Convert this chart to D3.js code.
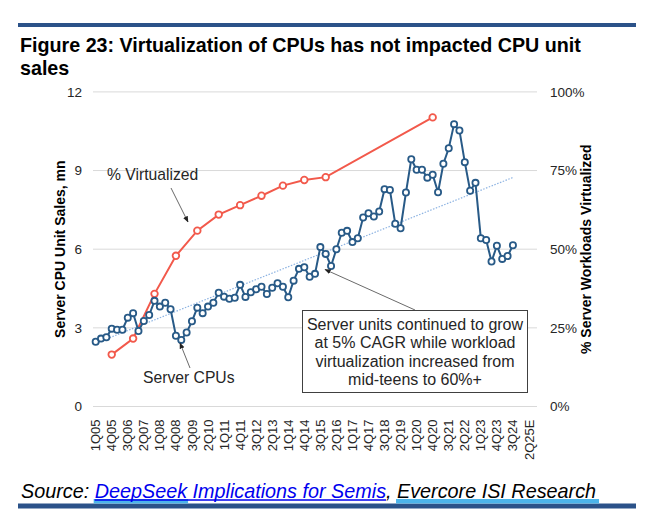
<!DOCTYPE html>
<html>
<head>
<meta charset="utf-8">
<script src="https://cdn.jsdelivr.net/npm/d3@7"></script>
<style>
  body { margin: 0; background: #fff; }
  svg { font-family: "Liberation Sans", Arial, sans-serif; }
</style>
</head>
<body>
<div id="chart"></div>
<script>
// --- Data ---
// quarters 1Q05 .. 3Q25E
const quarters = [];
for (let y = 5; y <= 24; y++) {
  for (let q = 1; q <= 4; q++) quarters.push(q + "Q" + String(y).padStart(2, "0"));
}
quarters.push("1Q25E", "2Q25E", "3Q25E");

const tickLabels = ["1Q05", "4Q05", "3Q06", "2Q07", "1Q08", "4Q08", "3Q09", "2Q10", "1Q11", "4Q11",
  "3Q12", "2Q13", "1Q14", "4Q14", "3Q15", "2Q16", "1Q17", "4Q17", "3Q18", "2Q19", "1Q20", "4Q20",
  "3Q21", "2Q22", "1Q23", "4Q23", "3Q24", "2Q25E"];

// Server CPU unit sales, mn (1Q05 .. 3Q24)
const cpuUnits = [
  2.47, 2.59, 2.64, 2.97, 2.93, 2.93, 3.39, 3.56, 2.88, 3.26,
  3.49, 4.03, 3.81, 3.96, 3.71, 2.70, 2.54, 2.82, 3.25, 3.77,
  3.56, 3.81, 3.96, 4.34, 4.19, 4.11, 4.15, 4.64, 4.18, 4.36,
  4.47, 4.57, 4.29, 4.53, 4.70, 4.57, 4.17, 4.80, 5.25, 5.31,
  4.95, 5.06, 6.08, 5.82, 5.36, 6.00, 6.63, 6.70, 6.27, 6.42,
  7.21, 7.37, 7.25, 7.44, 8.29, 8.26, 6.97, 6.80, 8.16, 9.43,
  9.03, 9.03, 8.73, 8.84, 8.17, 9.26, 9.85, 10.77, 10.53, 9.32,
  8.23, 8.53, 6.42, 6.35, 5.53, 6.13, 5.63, 5.74, 6.15
];

// % of server workloads virtualized
const virtQuarters = ["4Q05", "4Q06", "4Q07", "4Q08", "4Q09", "4Q10", "4Q11", "4Q12", "4Q13", "4Q14", "4Q15", "4Q20"];
const virtPct = [16.5, 21.6, 35.8, 47.9, 55.9, 61.0, 64.0, 67.0, 70.2, 72.0, 72.9, 91.9];

const leftTicks = [0, 3, 6, 9, 12];
const rightTicks = [0, 25, 50, 75, 100];

// --- Setup ---
const width = 654, height = 528;
const plot = { left: 93, right: 537, top: 91.9, bottom: 406.5 };

const blue = "#285a87";
const red = "#f2594b";
const textCol = "#262626";

const svg = d3.select("#chart").append("svg")
  .attr("width", width)
  .attr("height", height);

const defs = svg.append("defs");
defs.append("marker")
  .attr("id", "arrow")
  .attr("viewBox", "0 0 10 10")
  .attr("refX", 9).attr("refY", 5)
  .attr("markerWidth", 7).attr("markerHeight", 7)
  .attr("orient", "auto")
  .append("path")
  .attr("d", "M0,1 L10,5 L0,9 Z")
  .attr("fill", "#222");

const x = d3.scaleBand().domain(quarters).range([plot.left, plot.right]);
const xc = q => x(q) + x.bandwidth() / 2;
const yL = d3.scaleLinear().domain([0, 12]).range([plot.bottom, plot.top]);
const yR = d3.scaleLinear().domain([0, 100]).range([plot.bottom, plot.top]);

// top / bottom bars
svg.append("rect").attr("x", 18).attr("y", 23).attr("width", 618).attr("height", 4).attr("fill", "#2b5289");
svg.append("rect").attr("x", 18).attr("y", 503.5).attr("width", 618).attr("height", 5).attr("fill", "#2b5289");

// title
const title = svg.append("text")
  .attr("font-size", 19.7).attr("font-weight", "bold").attr("fill", "#000");
title.append("tspan").attr("x", 20).attr("y", 52).text("Figure 23: Virtualization of CPUs has not impacted CPU unit");
title.append("tspan").attr("x", 20).attr("y", 75).text("sales");

// gridlines
svg.append("g")
  .selectAll("line")
  .data(leftTicks)
  .join("line")
  .attr("x1", plot.left).attr("x2", plot.right)
  .attr("y1", d => yL(d)).attr("y2", d => yL(d))
  .attr("stroke", "#d9d9d9").attr("stroke-width", 1);

// left axis
const leftAxis = svg.append("g")
  .attr("transform", `translate(${plot.left},0)`)
  .call(d3.axisLeft(yL).tickValues(leftTicks).tickSize(0).tickPadding(11));
leftAxis.select(".domain").remove();
leftAxis.selectAll("text").attr("font-size", 13.5).attr("fill", textCol).attr("font-family", null);

// right axis
const rightAxis = svg.append("g")
  .attr("transform", `translate(${plot.right},0)`)
  .call(d3.axisRight(yR).tickValues(rightTicks).tickSize(0).tickPadding(13).tickFormat(d => d + "%"));
rightAxis.select(".domain").remove();
rightAxis.selectAll("text").attr("font-size", 13.5).attr("fill", textCol).attr("font-family", null);

// bottom axis (rotated labels)
const bottomAxis = svg.append("g")
  .attr("transform", `translate(0,${plot.bottom})`)
  .call(d3.axisBottom(x).tickValues(tickLabels).tickSize(0).tickPadding(0));
bottomAxis.select(".domain").remove();
bottomAxis.selectAll("text")
  .attr("font-size", 13).attr("fill", textCol).attr("font-family", null)
  .attr("text-anchor", "end")
  .attr("transform", "rotate(-90)")
  .attr("x", -13).attr("y", 0).attr("dy", "0.35em");

// axis titles
svg.append("text")
  .attr("transform", `translate(65,${(plot.top + plot.bottom) / 2}) rotate(-90)`)
  .attr("text-anchor", "middle")
  .attr("font-size", 14).attr("font-weight", "bold").attr("fill", "#000")
  .text("Server CPU Unit Sales, mn");

svg.append("text")
  .attr("transform", `translate(591,${(plot.top + plot.bottom) / 2}) rotate(-90)`)
  .attr("text-anchor", "middle")
  .attr("font-size", 14).attr("font-weight", "bold").attr("fill", "#000")
  .text("% Server Workloads Virtualized");

// trend line (linear fit of cpu units)
const n = cpuUnits.length;
const mx = d3.mean(cpuUnits, (d, i) => i);
const my = d3.mean(cpuUnits);
const slope = d3.sum(cpuUnits, (d, i) => (i - mx) * (d - my)) / d3.sum(cpuUnits, (d, i) => (i - mx) * (i - mx));
const icpt = my - slope * mx;
svg.append("line")
  .attr("x1", xc(quarters[0])).attr("y1", yL(icpt))
  .attr("x2", xc(quarters[n - 1])).attr("y2", yL(icpt + slope * (n - 1)))
  .attr("stroke", "#8db3e2").attr("stroke-width", 1.2)
  .attr("stroke-dasharray", "1.5,1.5");

// % virtualized line
const virt = virtQuarters.map((q, i) => ({ q, v: virtPct[i] }));
svg.append("path")
  .datum(virt)
  .attr("fill", "none")
  .attr("stroke", red).attr("stroke-width", 2)
  .attr("d", d3.line().x(d => xc(d.q)).y(d => yR(d.v)));
svg.append("g")
  .selectAll("circle")
  .data(virt)
  .join("circle")
  .attr("cx", d => xc(d.q)).attr("cy", d => yR(d.v))
  .attr("r", 3.3)
  .attr("fill", "#fff").attr("stroke", red).attr("stroke-width", 1.8);

// server CPU line
const cpu = cpuUnits.map((v, i) => ({ q: quarters[i], v }));
svg.append("path")
  .datum(cpu)
  .attr("fill", "none")
  .attr("stroke", blue).attr("stroke-width", 2)
  .attr("d", d3.line().x(d => xc(d.q)).y(d => yL(d.v)));
svg.append("g")
  .selectAll("circle")
  .data(cpu)
  .join("circle")
  .attr("cx", d => xc(d.q)).attr("cy", d => yL(d.v))
  .attr("r", 3.1)
  .attr("fill", "#fff").attr("stroke", blue).attr("stroke-width", 1.8);

// --- Annotations ---
const arrow = (x1, y1, x2, y2) => svg.append("line")
  .attr("x1", x1).attr("y1", y1).attr("x2", x2).attr("y2", y2)
  .attr("stroke", "#595959").attr("stroke-width", 0.9)
  .attr("marker-end", "url(#arrow)");

svg.append("text")
  .attr("x", 107).attr("y", 179.5)
  .attr("font-size", 15.7).attr("fill", textCol)
  .text("% Virtualized");
arrow(171, 188, 188, 222);

svg.append("text")
  .attr("x", 143).attr("y", 383)
  .attr("font-size", 15.7).attr("fill", textCol)
  .text("Server CPUs");
arrow(190, 368, 180, 343);

// box
arrow(415, 310, 325, 269.5);
svg.append("rect")
  .attr("x", 302.5).attr("y", 310.5).attr("width", 225).attr("height", 82)
  .attr("fill", "#fff").attr("stroke", "#404040").attr("stroke-width", 1);
const boxLines = ["Server units continued to grow", "at 5% CAGR while workload",
  "virtualization increased from", "mid-teens to 60%+"];
svg.append("g")
  .selectAll("text")
  .data(boxLines)
  .join("text")
  .attr("x", 415).attr("y", (d, i) => 329.5 + i * 18.5)
  .attr("text-anchor", "middle")
  .attr("font-size", 16).attr("fill", textCol)
  .text(d => d);

// --- Source line ---
const srcParts = [
  { t: "Source: ", fill: "#000" },
  { t: "DeepSeek Implications for Semis", fill: "#0000ee", link: true },
  { t: ", ", fill: "#000" },
  { t: "Evercore ISI Research", fill: "#000", hl: true }
];
const srcG = svg.append("g");
const hlG = srcG.append("g");
const src = srcG.append("text")
  .attr("x", 21).attr("y", 497.5)
  .attr("font-size", 19.8).attr("font-style", "italic");
const spans = srcParts.map(p => src.append("tspan").attr("fill", p.fill).text(p.t));

let cx = 21;
spans.forEach((s, i) => {
  const w = s.node().getComputedTextLength();
  const p = srcParts[i];
  if (p.link) {
    const w1 = src.node().getSubStringLength(srcParts[0].t.length, "DeepSeek".length);
    hlG.append("rect").attr("x", cx - 1).attr("y", 499).attr("width", w1 + 2).attr("height", 4.5).attr("fill", "#4cb4ea");
    srcG.append("line").attr("x1", cx).attr("x2", cx + w).attr("y1", 500).attr("y2", 500)
      .attr("stroke", "#0000ee").attr("stroke-width", 1.3);
  }
  if (p.hl) {
    hlG.append("rect").attr("x", cx - 1).attr("y", 499).attr("width", w + 4).attr("height", 4.5).attr("fill", "#4cb4ea");
  }
  cx += w;
});
</script>
</body>
</html>
